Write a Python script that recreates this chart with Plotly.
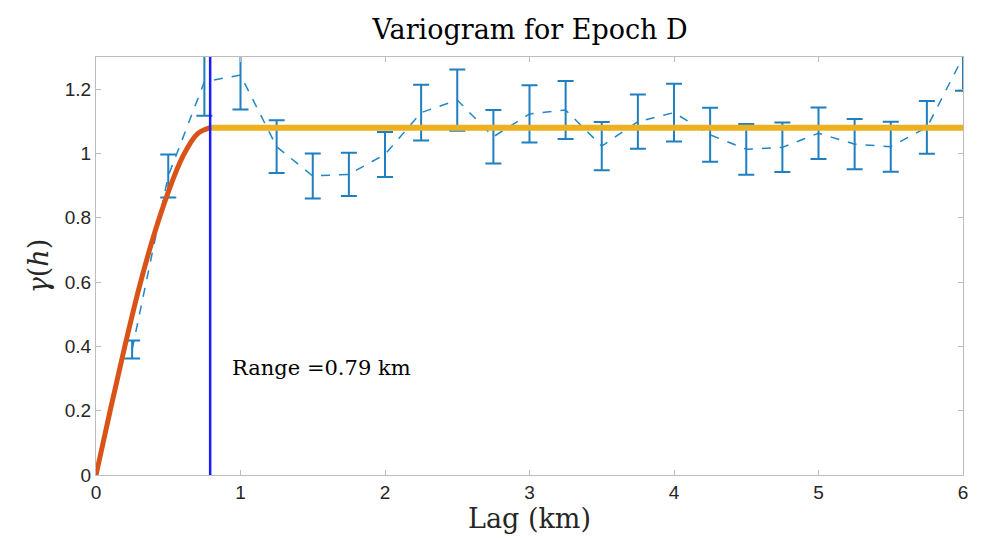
import plotly.graph_objects as go

lag = [0.25, 0.5, 0.75, 1.0, 1.25, 1.5, 1.75, 2.0, 2.25, 2.5, 2.75, 3.0,
       3.25, 3.5, 3.75, 4.0, 4.25, 4.5, 4.75, 5.0, 5.25, 5.5, 5.75, 6.0]
gamma = [0.39, 0.93, 1.223, 1.244, 1.021, 0.930, 0.935, 0.997, 1.127, 1.166, 1.052, 1.123,
         1.135, 1.023, 1.099, 1.127, 1.058, 1.013, 1.019, 1.063, 1.029, 1.021, 1.081, 1.30]
gamma_err = [0.028, 0.067, 0.106, 0.107, 0.082, 0.070, 0.067, 0.070, 0.087, 0.095, 0.083, 0.089,
             0.090, 0.075, 0.084, 0.090, 0.084, 0.079, 0.077, 0.080, 0.078, 0.078, 0.082, 0.105]

# fitted model, rising part up to the range
fit_h = [0, 0.1, 0.2, 0.3, 0.4, 0.5, 0.6, 0.7, 0.79]
fit_g = [0, 0.204, 0.401, 0.585, 0.745, 0.88, 0.99, 1.06, 1.08]

# sill from range to max lag
sill_h = [0.79, 6.0]
sill_g = [1.08, 1.08]

range_km = 0.79

serif = "DejaVu Serif"
sans = "Liberation Sans"

fig = go.Figure()

fig.add_trace(go.Scatter(
    x=lag, y=gamma, mode="lines",
    line=dict(color="#1F86C8", width=1.5, dash="dash"),
    error_y=dict(type="data", array=gamma_err, color="#1F7FC0", thickness=2, width=8),
    showlegend=False))

fig.add_trace(go.Scatter(
    x=fit_h, y=fit_g, mode="lines", line_shape="spline",
    line=dict(color="#D95319", width=5), showlegend=False))

fig.add_trace(go.Scatter(
    x=sill_h, y=sill_g, mode="lines",
    line=dict(color="#EDB120", width=6), showlegend=False))

fig.add_trace(go.Scatter(
    x=[range_km, range_km], y=[0, 1.3], mode="lines",
    line=dict(color="#1A1AFF", width=2.5), showlegend=False))

fig.add_annotation(x=0.93, y=0.333, xanchor="left", yanchor="middle", showarrow=False,
                   text=f"Range ={range_km} km", font=dict(family=serif, size=21, color="black"))

axis_style = dict(
    showgrid=False, zeroline=False, showline=True, linecolor="#BDBDBD", linewidth=1,
    mirror="allticks", ticks="inside", ticklen=5, tickcolor="#BDBDBD",
    tickfont=dict(family=sans, size=19, color="#262626"))

fig.update_xaxes(range=[0, 6], dtick=1,
                 title=dict(text="Lag (km)", font=dict(family=serif, size=27, color="#262626"), standoff=4),
                 **axis_style)
fig.update_yaxes(range=[0, 1.3], tickvals=[0, 0.2, 0.4, 0.6, 0.8, 1, 1.2],
                 title=dict(text="<i>γ</i>(<i>h</i>)", font=dict(family=serif, size=27, color="#262626"), standoff=8),
                 **axis_style)

fig.update_layout(
    width=976, height=530,
    margin=dict(l=88, r=21, t=49, b=63),
    paper_bgcolor="white", plot_bgcolor="white",
    title=dict(text="Variogram for Epoch D", x=0.535, xanchor="center", y=0.96, yanchor="middle",
               font=dict(family=serif, size=27, color="black")))

fig.write_html("out.html")
